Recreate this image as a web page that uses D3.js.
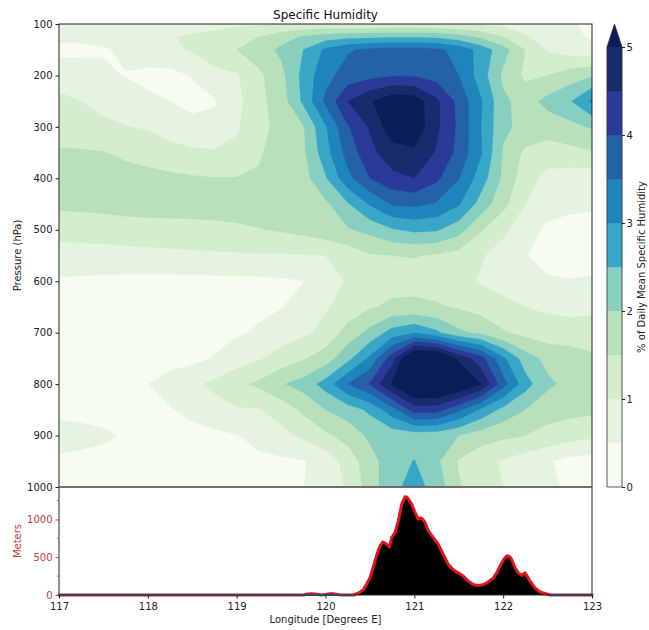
<!DOCTYPE html>
<html>
<head>
<meta charset="utf-8">
<script src="https://cdn.jsdelivr.net/npm/d3@7"></script>
<style>
  body { margin: 0; background: #fff; }
  svg text { font-family: "DejaVu Sans", sans-serif; }
</style>
</head>
<body>
<svg id="chart" width="649" height="630"></svg>
<script>
// ---- Cross-section grid: longitude (deg E) x pressure (hPa) ----
const longitudes = [117, 117.25, 117.5, 117.75, 118, 118.25, 118.5, 118.75, 119, 119.25, 119.5, 119.75,
                    120, 120.25, 120.5, 120.75, 121, 121.25, 121.5, 121.75, 122, 122.25, 122.5, 122.75, 123];
const pressureLevels = [100, 125, 150, 200, 250, 300, 350, 400, 450, 500, 550, 600, 650, 700, 750, 800, 850, 900, 950, 1000];

// % of daily mean specific humidity, one row per pressure level (top to bottom)
const humidity = [
  /* 100 */ [0.75,0.75,0.72,0.7,0.7,0.75,0.8,0.85,0.9,0.95,1.0,1.05,1.05,1.05,1.05,1.05,1.05,1.05,1.0,0.95,0.85,0.78,0.7,0.55,0.4],
  /* 125 */ [0.6,0.6,0.62,0.65,0.7,0.98,1.05,1.15,1.3,1.5,1.8,2.05,2.25,2.35,2.4,2.45,2.45,2.4,2.2,1.9,1.5,1.05,0.8,0.6,0.45],
  /* 150 */ [0.38,0.4,0.45,0.6,0.75,0.9,1.05,1.3,1.5,1.75,2.1,2.5,3.1,3.45,3.6,3.7,3.7,3.6,3.35,2.8,2.2,1.5,0.95,0.75,0.65],
  /* 200 */ [0.8,0.7,0.6,0.48,0.38,0.35,0.52,0.85,0.95,1.4,1.85,2.65,3.35,3.7,3.85,3.95,3.95,3.8,3.5,2.75,1.9,1.4,1.5,1.75,1.95],
  /* 250 */ [1.1,1.0,0.85,0.7,0.6,0.5,0.4,0.45,0.85,1.35,1.75,2.6,3.6,4.5,4.95,5.35,5.3,4.6,3.85,3.05,2.1,1.8,2.15,2.45,3.1],
  /* 300 */ [1.3,1.2,1.1,1.02,0.95,0.75,0.6,0.65,0.95,1.3,1.7,1.97,2.95,3.95,4.55,5.3,5.35,4.6,3.9,3.0,2.1,1.85,1.75,1.85,2.05],
  /* 350 */ [1.55,1.55,1.52,1.4,1.3,1.2,1.1,1.05,1.1,1.45,1.7,1.9,2.8,3.7,4.35,4.8,4.9,4.45,3.85,3.05,1.95,1.4,1.25,1.35,1.45],
  /* 400 */ [1.75,1.78,1.75,1.7,1.65,1.6,1.55,1.52,1.52,1.55,1.65,1.8,2.45,3.35,4.0,4.35,4.5,4.1,3.52,2.75,1.9,1.2,0.85,0.75,0.7],
  /* 450 */ [1.6,1.62,1.65,1.7,1.72,1.72,1.7,1.7,1.72,1.75,1.78,1.85,1.9,2.45,3.05,3.55,3.6,3.45,3.05,2.3,1.65,1.0,0.7,0.6,0.55],
  /* 500 */ [1.2,1.22,1.25,1.28,1.3,1.32,1.35,1.38,1.42,1.48,1.55,1.65,1.8,1.95,2.15,2.45,2.6,2.55,2.2,1.55,1.1,0.7,0.4,0.35,0.38],
  /* 550 */ [0.75,0.78,0.8,0.82,0.85,0.88,0.9,0.92,0.94,0.95,0.96,0.97,1.0,1.2,1.45,1.5,1.52,1.45,1.3,1.05,0.8,0.52,0.35,0.3,0.32],
  /* 600 */ [0.45,0.42,0.4,0.38,0.37,0.36,0.36,0.37,0.38,0.4,0.43,0.49,0.75,1.05,1.2,1.3,1.35,1.3,1.15,0.95,0.8,0.65,0.55,0.52,0.55],
  /* 650 */ [0.42,0.4,0.38,0.36,0.35,0.35,0.36,0.38,0.4,0.42,0.48,0.7,0.95,1.2,1.45,1.6,1.6,1.55,1.45,1.3,1.15,1.0,0.9,0.85,0.9],
  /* 700 */ [0.38,0.36,0.34,0.33,0.33,0.34,0.36,0.4,0.45,0.55,0.75,0.9,1.15,1.7,2.15,2.7,2.95,2.6,2.1,1.9,1.55,1.35,1.25,1.22,1.2],
  /* 750 */ [0.35,0.33,0.32,0.31,0.31,0.33,0.38,0.52,0.75,0.95,1.2,1.45,1.75,2.35,3.1,4.3,5.95,5.9,4.9,4.2,3.1,2.25,1.85,1.75,1.6],
  /* 800 */ [0.35,0.37,0.38,0.4,0.5,0.68,0.88,1.12,1.38,1.6,1.95,2.2,2.7,3.5,4.05,5.05,5.9,5.9,5.6,5.0,3.7,2.7,2.1,1.85,1.7],
  /* 850 */ [0.42,0.4,0.38,0.37,0.4,0.47,0.62,0.8,0.95,0.97,1.2,1.6,2.0,2.25,2.6,3.3,4.23,4.2,3.6,2.9,2.35,2.0,1.7,1.65,1.6],
  /* 900 */ [0.62,0.6,0.55,0.47,0.38,0.35,0.35,0.4,0.48,0.65,0.85,1.1,1.4,1.7,2.1,2.2,2.22,2.2,2.0,1.75,1.6,1.5,1.35,1.2,1.1],
  /* 950 */ [0.45,0.42,0.4,0.38,0.36,0.35,0.35,0.36,0.38,0.4,0.42,0.47,0.7,1.2,1.8,2.3,2.52,2.1,1.45,1.15,0.95,0.75,0.55,0.35,0.3],
  /* 1000 */ [0.4,0.38,0.36,0.35,0.34,0.34,0.35,0.36,0.38,0.41,0.45,0.49,0.75,1.05,1.75,2.35,2.7,2.3,1.55,1.2,1.0,0.8,0.6,0.42,0.35]
];

// Filled contour levels (extend above the last level) and their colours
const contourLevels = [0, 0.5, 1, 1.5, 2, 2.5, 3, 3.5, 4, 4.5, 5];
const bandColors = ["#f7fcf0", "#e5f4df", "#d3edcd", "#b6e1bb", "#89cfc0", "#38a6c7",
                    "#1f84bc", "#2462a8", "#293b96", "#192a6d", "#0b1d56"];

// Terrain profile along the section
const terrainLon  = [117, 119.75, 119.8, 119.85, 119.9, 119.95, 120.0, 120.05, 120.1, 120.15, 120.2, 120.313,
  120.37, 120.426, 120.46, 120.5, 120.53, 120.557, 120.585, 120.614, 120.644, 120.665, 120.689, 120.719,
  120.745, 120.783, 120.82, 120.858, 120.895, 120.915, 120.933, 120.97, 121.008, 121.045, 121.065, 121.083,
  121.12, 121.158, 121.214, 121.27, 121.326, 121.383, 121.42, 121.458, 121.5, 121.552, 121.608, 121.664,
  121.7, 121.74, 121.78, 121.815, 121.85, 121.89, 121.93, 121.965, 122.0, 122.02, 122.04, 122.058, 122.075,
  122.096, 122.133, 122.17, 122.208, 122.23, 122.246, 122.27, 122.302, 122.358, 122.415, 122.49, 122.53, 123];
const terrainElev = [0, 0, 12, 18, 10, 0, 8, 18, 15, 3, 0, 0,
  25, 71, 140, 227, 340, 449, 560, 649, 702, 690, 671, 636,
  760, 827, 982, 1204, 1300, 1298, 1271, 1204, 1093, 1004, 1020, 1017,
  960, 849, 760, 671, 537, 404, 355, 316, 290, 249, 183, 138,
  130, 129, 140, 160, 190, 227, 300, 382, 460, 493, 515, 516, 505,
  471, 360, 293, 262, 280, 293, 250, 183, 93, 40, 13, 0, 0];
// Sea-level stretches on either side of the island
const seaSpans = [[117, 120.32], [122.52, 123]];

// Tick values
const pressureTicks = [100, 200, 300, 400, 500, 600, 700, 800, 900, 1000];
const lonTicks = [117, 118, 119, 120, 121, 122, 123];
const meterTicks = [0, 500, 1000];
const meterMinorTicks = [250, 750, 1250];
const colorbarTicks = [0, 1, 2, 3, 4, 5];

// ---- Layout ----
const L = 59, R = 592, T = 24, MID = 487, B = 595;
const RED = "#c43b3b", INK = "#222";
const intFmt = d3.format("d");

const svg = d3.select("#chart");
const x = d3.scaleLinear().domain([117, 123]).range([L, R]);
const yP = d3.scaleLinear().domain([100, 1000]).range([T, MID]);
const yM = d3.scaleLinear().domain([0, 1.1 * d3.max(terrainElev)]).range([B, MID]);

svg.append("defs").append("clipPath").attr("id", "plotClip")
  .append("rect").attr("x", L).attr("y", T).attr("width", R - L).attr("height", MID - T);

// ---- Filled contours ----
const nx = longitudes.length, ny = pressureLevels.length;
const contours = d3.contours().size([nx, ny]).thresholds(contourLevels)(humidity.flat());
// grid cell centres sit at index + 0.5 in contour space
const uToLon = d3.scaleLinear().domain([0.5, nx - 0.5]).range([longitudes[0], longitudes[nx - 1]]);
const vToP = d3.scaleLinear().domain(pressureLevels.map((_, i) => i + 0.5)).range(pressureLevels);
const gridPath = d3.geoPath(d3.geoTransform({
  point(u, v) { this.stream.point(x(uToLon(u)), yP(vToP(v))); }
}));

svg.append("g").attr("clip-path", "url(#plotClip)")
  .selectAll("path").data(contours).join("path")
  .attr("d", gridPath)
  .attr("fill", (d, i) => bandColors[i])
  .attr("stroke", (d, i) => bandColors[i])
  .attr("stroke-width", 0.3);

// frame of the section plot
svg.append("rect").attr("x", L).attr("y", T).attr("width", R - L).attr("height", MID - T)
  .attr("fill", "none").attr("stroke", INK).attr("stroke-width", 1);

// pressure axis
const axP = svg.append("g").attr("transform", `translate(${L},0)`)
  .call(d3.axisLeft(yP).tickValues(pressureTicks).tickFormat(intFmt).tickSize(3.5).tickPadding(3));
axP.select(".domain").remove();
axP.selectAll("text").attr("font-size", 10).attr("fill", INK).style("font-family", "DejaVu Sans");
axP.selectAll("line").attr("stroke", INK);

// ---- Terrain panel ----
const tData = terrainLon.map((lon, i) => [lon, terrainElev[i]]);
svg.append("path").datum(tData)
  .attr("d", d3.area().x(d => x(d[0])).y0(yM(0)).y1(d => yM(d[1])))
  .attr("fill", "#000");
svg.append("path").datum(tData)
  .attr("d", d3.line().x(d => x(d[0])).y(d => yM(d[1])))
  .attr("fill", "none").attr("stroke", "#e3141c").attr("stroke-width", 3)
  .attr("stroke-linejoin", "round").attr("stroke-linecap", "round");
svg.append("g").selectAll("line").data(seaSpans).join("line")
  .attr("x1", d => x(d[0])).attr("x2", d => x(d[1]))
  .attr("y1", yM(0)).attr("y2", yM(0))
  .attr("stroke", "#1f77b4").attr("stroke-width", 2);

// panel frame
svg.append("path")
  .attr("d", `M${L},${MID}V${B}H${R}V${MID}`)
  .attr("fill", "none").attr("stroke", INK).attr("stroke-width", 1);
svg.append("line").attr("x1", L).attr("x2", R).attr("y1", MID).attr("y2", MID)
  .attr("stroke", "#666").attr("stroke-width", 1.6);

// meters axis (red)
const axM = svg.append("g").attr("transform", `translate(${L},0)`)
  .call(d3.axisLeft(yM).tickValues(meterTicks).tickFormat(intFmt).tickSize(3.5).tickPadding(3));
axM.select(".domain").remove();
axM.selectAll("text").attr("font-size", 10).attr("fill", RED).style("font-family", "DejaVu Sans");
axM.selectAll("line").attr("stroke", RED);
svg.append("g").selectAll("line").data(meterMinorTicks).join("line")
  .attr("x1", L - 2).attr("x2", L).attr("y1", d => yM(d)).attr("y2", d => yM(d))
  .attr("stroke", RED).attr("stroke-width", 0.8);

// longitude axis
const axX = svg.append("g").attr("transform", `translate(0,${B})`)
  .call(d3.axisBottom(x).tickValues(lonTicks).tickFormat(intFmt).tickSize(3.5).tickPadding(4.5));
axX.select(".domain").remove();
axX.selectAll("text").attr("font-size", 10).attr("fill", INK).style("font-family", "DejaVu Sans");
axX.selectAll("line").attr("stroke", INK);

// ---- Colour bar ----
const cbX = 607, cbW = 15, cbTop = 47, cbTip = 24;
const yC = d3.scaleLinear().domain([0, 5]).range([MID, cbTop]);
const cb = svg.append("g");
cb.selectAll("rect").data(d3.range(contourLevels.length - 1)).join("rect")
  .attr("x", cbX).attr("width", cbW)
  .attr("y", i => yC(contourLevels[i + 1]))
  .attr("height", i => yC(contourLevels[i]) - yC(contourLevels[i + 1]))
  .attr("fill", i => bandColors[i]).attr("stroke", i => bandColors[i]).attr("stroke-width", 0.3);
cb.append("path")
  .attr("d", `M${cbX},${cbTop}L${cbX + cbW / 2},${cbTip}L${cbX + cbW},${cbTop}Z`)
  .attr("fill", bandColors[bandColors.length - 1]);
cb.append("path")
  .attr("d", `M${cbX},${MID}V${cbTop}L${cbX + cbW / 2},${cbTip}L${cbX + cbW},${cbTop}V${MID}Z`)
  .attr("fill", "none").attr("stroke", "#333").attr("stroke-width", 0.8);
const axC = svg.append("g").attr("transform", `translate(${cbX + cbW},0)`)
  .call(d3.axisRight(yC).tickValues(colorbarTicks).tickFormat(intFmt).tickSize(3).tickPadding(1.5));
axC.select(".domain").remove();
axC.selectAll("text").attr("font-size", 10).attr("fill", INK).style("font-family", "DejaVu Sans");
axC.selectAll("line").attr("stroke", INK);

// ---- Titles and labels ----
svg.append("text").attr("x", (L + R) / 2).attr("y", 19).attr("text-anchor", "middle")
  .attr("font-size", 12).attr("fill", "#111").text("Specific Humidity");
svg.append("text").attr("transform", `translate(21,${(T + MID) / 2}) rotate(-90)`)
  .attr("text-anchor", "middle").attr("font-size", 10).attr("fill", INK).text("Pressure (hPa)");
svg.append("text").attr("transform", `translate(21,${(MID + B) / 2}) rotate(-90)`)
  .attr("text-anchor", "middle").attr("font-size", 10).attr("fill", RED).text("Meters");
svg.append("text").attr("x", (L + R) / 2).attr("y", 623).attr("text-anchor", "middle")
  .attr("font-size", 10).attr("fill", INK).text("Longitude [Degrees E]");
svg.append("text").attr("transform", `translate(644.5,${(MID + cbTop) / 2}) rotate(-90)`)
  .attr("text-anchor", "middle").attr("font-size", 10).attr("fill", INK)
  .text("% of Daily Mean Specific Humidity");
</script>
</body>
</html>
